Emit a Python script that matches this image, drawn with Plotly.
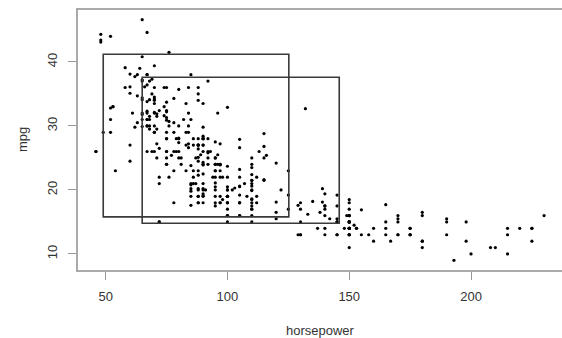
import plotly.graph_objects as go

# Auto data: horsepower vs mpg
mpg = [
 18,15,18,16,17,15,14,14,14,15,15,14,15,14,24,22,18,21,27,26,25,24,25,26,21,10,10,11,9,
 27,28,25,19,16,17,19,18,14,14,14,14,12,13,13,18,22,19,18,23,28,30,30,31,35,27,26,24,25,23,20,21,
 13,14,15,14,17,11,13,12,13,19,15,13,13,14,18,22,21,26,22,28,23,28,27,
 13,14,13,14,15,12,13,13,14,13,12,13,18,16,18,18,23,26,11,12,13,12,18,20,21,22,18,19,21,26,15,16,29,24,20,19,15,24,20,11,
 20,19,15,31,26,32,25,16,16,18,16,13,14,14,14,29,26,26,31,32,28,24,26,24,26,31,
 19,18,15,15,16,15,16,14,17,16,15,18,21,20,13,29,23,20,23,24,25,24,18,29,19,23,23,22,25,33,
 28,25,25,26,27,17.5,16,15.5,14.5,22,22,24,22.5,29,24.5,29,33,20,18,18.5,17.5,29.5,32,28,26.5,20,13,19,19,16.5,16.5,13,13,13,
 31.5,30,36,25.5,33.5,17.5,17,15.5,15,17.5,20.5,19,18.5,16,15.5,15.5,16,29,24.5,26,25.5,30.5,33.5,30,30.5,22,21.5,21.5,
 43.1,36.1,32.8,39.4,36.1,19.9,19.4,20.2,19.2,20.5,20.2,25.1,20.5,19.4,20.6,20.8,18.6,18.1,19.2,17.7,18.1,17.5,30,27.5,27.2,30.9,21.1,23.2,23.8,23.9,20.3,17,21.6,16.2,31.5,29.5,
 21.5,19.8,22.3,20.2,20.6,17,17.6,16.5,18.2,16.9,15.5,19.2,18.5,31.9,34.1,35.7,27.4,25.4,23,27.2,23.9,34.2,34.5,31.8,37.3,28.4,28.8,26.8,33.5,
 41.5,38.1,32.1,37.2,28,26.4,24.3,19.1,34.3,29.8,31.3,37,32.2,46.6,27.9,40.8,44.3,43.4,36.4,30,44.6,33.8,29.8,32.7,23.7,35,32.4,
 27.2,26.6,25.8,23.5,30,39.1,39,35.1,32.3,37,37.7,34.1,34.7,34.4,29.9,33,33.7,32.4,32.9,31.6,28.1,30.7,25.4,24.2,22.4,26.6,20.2,17.6,
 28,27,34,31,29,27,24,36,37,31,38,36,36,36,34,38,32,38,25,38,26,22,32,36,27,27,44,32,28,31,
]
horsepower = [
 130,165,150,150,140,198,220,215,225,190,170,160,150,225,95,95,97,85,88,46,87,90,95,113,90,215,200,210,193,
 88,90,95,100,105,100,88,100,165,175,153,150,180,170,175,110,72,100,88,86,90,70,76,65,69,60,70,95,80,54,90,86,
 165,175,150,153,150,208,155,160,190,97,150,130,140,150,112,76,87,69,86,92,97,80,88,
 175,150,145,137,150,198,150,158,150,215,225,175,105,100,100,88,95,46,150,167,170,180,100,88,72,94,90,85,107,90,145,230,49,75,91,112,150,110,122,180,
 95,100,100,67,80,65,75,100,110,105,140,150,150,140,150,83,67,78,52,61,75,75,75,97,93,67,
 95,105,72,72,170,145,150,148,110,105,110,95,110,110,129,75,83,100,78,96,71,97,97,70,90,95,88,98,115,53,
 86,81,92,79,83,140,150,120,152,100,105,81,90,52,60,70,53,100,78,110,95,71,70,75,72,102,150,88,108,120,180,145,130,150,
 68,80,58,96,70,145,110,145,130,110,105,100,98,180,170,190,149,78,88,75,89,63,83,67,78,97,110,110,
 48,66,52,70,60,110,140,139,105,95,85,88,100,90,105,85,110,120,145,165,139,140,68,95,97,75,95,105,85,97,103,125,115,133,71,68,
 115,85,88,90,110,130,129,138,135,155,142,125,150,71,65,80,80,77,125,71,90,70,70,65,69,90,115,115,90,
 76,60,70,65,90,88,90,90,78,90,75,92,75,65,105,65,48,48,67,67,67,67,62,132,100,88,72,
 84,84,92,110,84,58,64,60,67,65,62,68,63,65,65,74,75,75,100,74,80,76,116,120,110,105,88,85,
 88,88,88,85,84,90,92,74,68,68,63,70,88,75,70,67,67,67,110,85,92,112,96,84,90,86,52,84,79,82,
]

# Rectangles (in data units)
rect_hp_lo = [49, 65]
rect_hp_hi = [125.2, 145.9]
rect_mpg_lo = [15.8, 14.8]
rect_mpg_hi = [41.2, 37.6]

x_ticks = [50, 100, 150, 200]
y_ticks = [10, 20, 30, 40]

# R-style 4% range extension
xmin, xmax = min(horsepower), max(horsepower)
ymin, ymax = min(mpg), max(mpg)
xpad = 0.04 * (xmax - xmin)
ypad = 0.04 * (ymax - ymin)

fig = go.Figure()
fig.add_trace(go.Scatter(
    x=horsepower, y=mpg, mode="markers",
    marker=dict(size=3.2, color="black", line=dict(width=0)),
    showlegend=False, hoverinfo="x+y",
))

for a, b, c, d in zip(rect_hp_lo, rect_hp_hi, rect_mpg_lo, rect_mpg_hi):
    fig.add_shape(type="rect", xref="x", yref="y", x0=a, x1=b, y0=c, y1=d,
                  line=dict(color="#3a3a3a", width=1.6), fillcolor="rgba(0,0,0,0)")

tickfont = dict(family="Liberation Sans, Arial, sans-serif", size=13, color="#333")
fig.update_layout(
    width=562, height=338,
    margin=dict(l=78, r=0, t=10, b=68),
    paper_bgcolor="white", plot_bgcolor="white",
    xaxis=dict(range=[xmin - xpad, xmax + xpad], tickvals=x_ticks, ticks="outside",
               ticklen=8, tickcolor="#999", tickwidth=1.3, showline=True, linecolor="#aaa",
               linewidth=1.6, mirror=True, showgrid=False, zeroline=False,
               tickfont=tickfont, ticklabelstandoff=6),
    yaxis=dict(range=[ymin - ypad, ymax + ypad], tickvals=y_ticks, ticks="outside",
               ticklen=8, tickcolor="#999", tickwidth=1.3, showline=True, linecolor="#aaa",
               linewidth=1.6, mirror=False, showgrid=False, zeroline=False,
               tickfont=tickfont, tickangle=-90, ticklabelstandoff=6),
    annotations=[
        dict(text="horsepower", xref="paper", yref="paper", x=0.5, y=-60/260,
             xanchor="center", yanchor="middle", showarrow=False, font=tickfont),
        dict(text="mpg", xref="paper", yref="paper", x=-56/484, y=0.5, textangle=-90,
             xanchor="center", yanchor="middle", showarrow=False, font=tickfont),
    ],
)

fig.write_html("out.html", config={"displayModeBar": False},
               post_script="document.body.style.margin='0px';")
